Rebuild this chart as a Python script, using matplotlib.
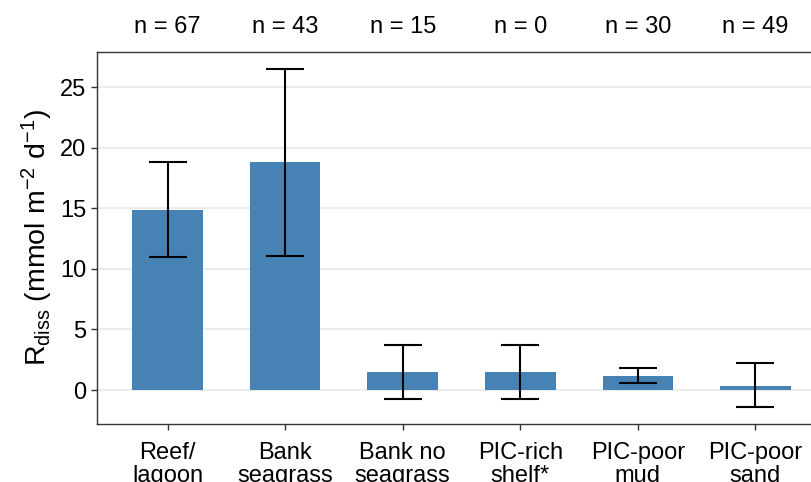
import matplotlib.pyplot as plt
import numpy as np

plt.rcParams["font.family"] = ["Liberation Sans", "DejaVu Sans"]
plt.rcParams["mathtext.fontset"] = "custom"
plt.rcParams["mathtext.rm"] = "Liberation Sans"
plt.rcParams["mathtext.it"] = "Liberation Sans"

categories = ["Reef/\nlagoon", "Bank\nseagrass", "Bank no\nseagrass",
              "PIC-rich\nshelf*", "PIC-poor\nmud", "PIC-poor\nsand"]
r_diss = [14.9, 18.8, 1.5, 1.5, 1.2, 0.35]
err_low = [11.0, 11.1, -0.7, -0.7, 0.6, -1.4]
err_high = [18.8, 26.5, 3.7, 3.7, 1.8, 2.2]
n_obs = [67, 43, 15, 0, 30, 49]

W, H = 812, 482
fig = plt.figure(figsize=(W / 100, H / 100), dpi=100)
# panel runs past the right edge of the figure
ax = fig.add_axes([97 / W, (H - 424) / H, (826 - 97) / W, (424 - 52) / H])

x = np.arange(len(categories))
ax.bar(x, r_diss, width=0.6, color="#4682B4", zorder=2)
yerr = [np.array(r_diss) - np.array(err_low), np.array(err_high) - np.array(r_diss)]
ax.errorbar(x, r_diss, yerr=yerr, fmt="none", ecolor="black", elinewidth=1.5,
            capsize=13.5, capthick=1.5, zorder=3)

for xi, n in zip(x, n_obs):
    ax.text(xi, 1.068, f"n = {n}", transform=ax.get_xaxis_transform(),
            ha="center", va="center", fontsize=17)

ax.set_xlim(-0.6, len(categories) - 0.4)
ax.set_ylim(-2.8, 27.9)
ax.set_yticks([0, 5, 10, 15, 20, 25])
ax.set_xticks(x)
ax.set_xticklabels(categories, fontsize=17, linespacing=1.08)
ax.tick_params(axis="y", labelsize=17, length=4, color="#333333", width=1)
ax.tick_params(axis="x", length=4, color="#333333", width=1, pad=9)
ax.grid(axis="y", color="#EBEBEB", linewidth=1.5, zorder=0)
ax.set_axisbelow(True)
for s in ax.spines.values():
    s.set_color("#333333")
    s.set_linewidth(1.0)

ax.set_ylabel(r"R$_{\mathrm{diss}}$ (mmol m$^{-2}$ d$^{-1}$)", fontsize=20.5, labelpad=4)

fig.savefig("out.png", dpi=100)
